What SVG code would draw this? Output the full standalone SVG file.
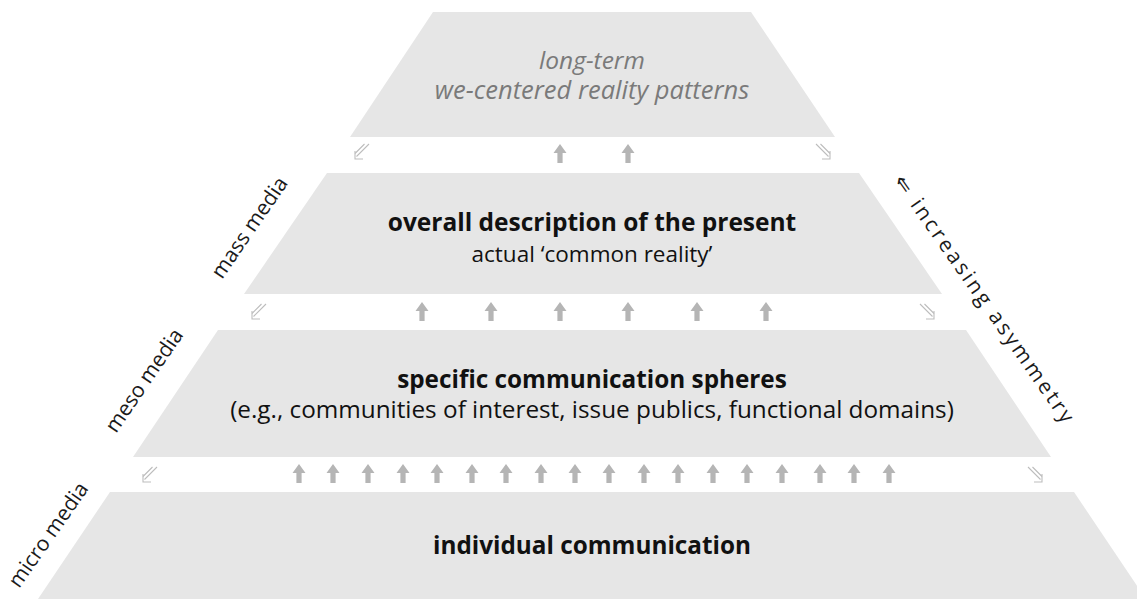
<svg xmlns="http://www.w3.org/2000/svg" width="1137" height="599" viewBox="0 0 1137 599">
<style>
.lvl{fill:#e6e6e6}
.t{font-family:"Open Sans","Liberation Sans",sans-serif;text-anchor:middle;fill:#111}
.b{font-weight:bold}
.it{font-style:italic;fill:#7a7a7a}
.side{font-family:"Open Sans","Liberation Sans",sans-serif;font-size:21px;fill:#1a1a1a}
.up{fill:#b5b5b5}
.dd{fill:none;stroke:#bdbdbd;stroke-width:1.1}
</style>
<defs>
<path id="up" d="M0,-10 L6.5,-1 L2.6,-1 L2.6,9 L-2.6,9 L-2.6,-1 L-6.5,-1 Z"/>
<g id="dl"><path d="M7,-8 L-5.5,4.5 M2.5,-8 L-7,1.5"/><path d="M-7,-1 L-7,7 L1,7"/></g>
<g id="dr"><path d="M-7,-8 L5.5,4.5 M-2.5,-8 L7,1.5"/><path d="M7,-1 L7,7 L-1,7"/></g>
</defs>
<rect width="1137" height="599" fill="#fff"/>
<g id="level-top">
<polygon class="lvl" points="433,12 751,12 835,137 350,137"/>
<text class="t it" x="592" y="69" font-size="24.5">long-term</text>
<text class="t it" x="592" y="99" font-size="25.5">we-centered reality patterns</text>
</g>
<g id="level-present">
<polygon class="lvl" points="327,173 859,173 942,294 244,294"/>
<text class="t b" x="592" y="231" font-size="24.5">overall description of the present</text>
<text class="t" x="592" y="262" font-size="22.5">actual ‘common reality’</text>
</g>
<g id="level-spheres">
<polygon class="lvl" points="218,330 966,330 1051,457 133,457"/>
<text class="t b" x="592" y="388" font-size="24.3">specific communication spheres</text>
<text class="t" x="592" y="418" font-size="24.3">(e.g., communities of interest, issue publics, functional domains)</text>
</g>
<g id="level-individual">
<polygon class="lvl" points="110,492 1074,492 1146,599 38,599"/>
<text class="t b" x="592" y="554" font-size="24.3">individual communication</text>
</g>
<g id="labels">
<text class="side" transform="translate(222,280) rotate(-55.5)">mass media</text>
<text class="side" transform="translate(116,434) rotate(-55.5)">meso media</text>
<text class="side" transform="translate(19,589) rotate(-55)">micro media</text>
<text class="side" transform="translate(893,181) rotate(55)" font-size="20" letter-spacing="2.8">⇐ increasing asymmetry</text>
</g>
<g id="connectors">
<g class="up">
<use href="#up" x="560" y="154"/><use href="#up" x="628" y="154"/>
<use href="#up" x="422" y="312"/><use href="#up" x="491" y="312"/><use href="#up" x="560" y="312"/><use href="#up" x="628" y="312"/><use href="#up" x="697" y="312"/><use href="#up" x="766" y="312"/>
<use href="#up" x="299" y="474"/><use href="#up" x="333" y="474"/><use href="#up" x="368" y="474"/><use href="#up" x="403" y="474"/><use href="#up" x="437" y="474"/><use href="#up" x="472" y="474"/><use href="#up" x="506" y="474"/><use href="#up" x="541" y="474"/><use href="#up" x="575" y="474"/><use href="#up" x="609" y="474"/><use href="#up" x="644" y="474"/><use href="#up" x="678" y="474"/><use href="#up" x="713" y="474"/><use href="#up" x="747" y="474"/><use href="#up" x="782" y="474"/><use href="#up" x="820" y="474"/><use href="#up" x="854" y="474"/><use href="#up" x="889" y="474"/>
</g>
<g class="dd">
<use href="#dl" x="362" y="152"/><use href="#dr" x="823" y="152"/>
<use href="#dl" x="259" y="312"/><use href="#dr" x="927" y="312"/>
<use href="#dl" x="150" y="475"/><use href="#dr" x="1035" y="475"/>
</g>
</g>
</svg>
